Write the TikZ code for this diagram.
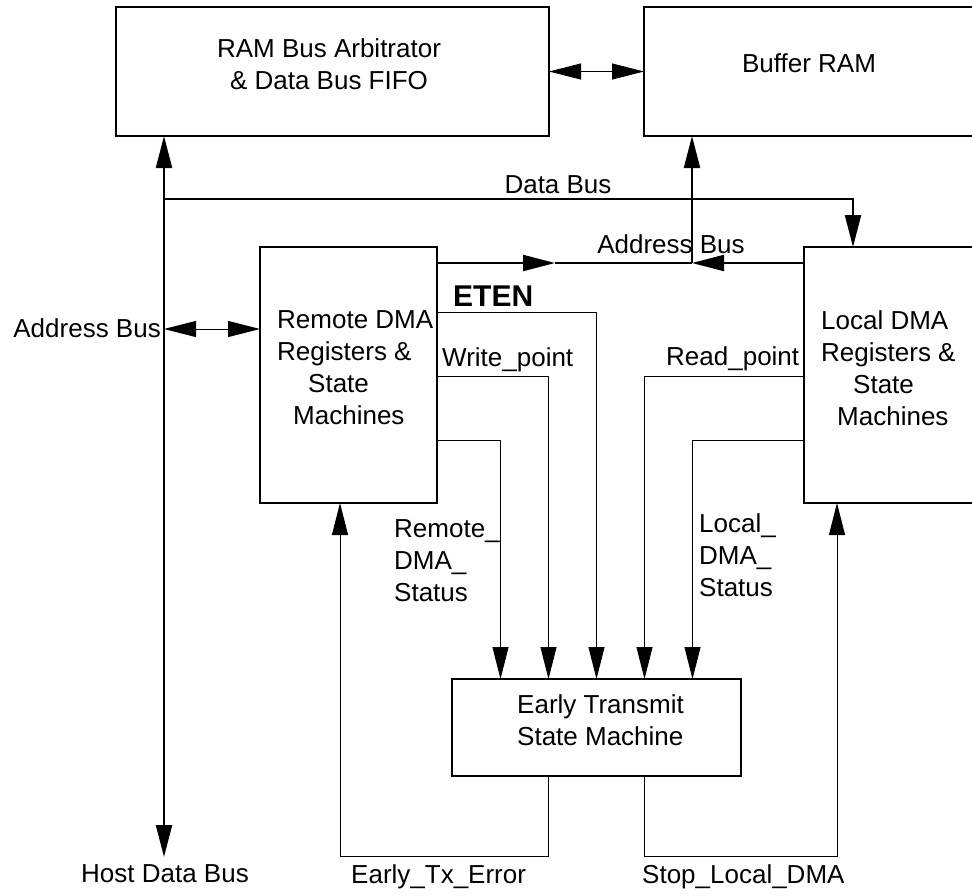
\documentclass[tikz,border=0pt]{standalone}
\usepackage{fontspec}
\setmainfont{Liberation Sans}
\usetikzlibrary{arrows.meta,calc}
\begin{document}
\begin{tikzpicture}[x=1pt,y=-1pt,
  box/.style={draw,line width=2pt,inner sep=0pt,outer sep=0pt},
  bus/.style={line width=2pt},
  sig/.style={line width=1pt},
  endtip/.style={-{Triangle[length=32pt,width=16pt]}},
  bothtips/.style={{Triangle[length=32pt,width=16pt]}-{Triangle[length=32pt,width=16pt]}},
  txt/.style={font=\fontsize{26}{32}\selectfont, inner sep=0pt},
  ]
\useasboundingbox (0,0) rectangle (972,895);
\clip (0,0) rectangle (972,895);

% boxes
\node[box,minimum width=433pt,minimum height=129pt] (ram) at (332.5,71.5) {};
\node[box,minimum width=346pt,minimum height=129pt] (buf) at (817,71.5) {};
\node[box,minimum width=177pt,minimum height=256pt] (rdma) at (348.5,375) {};
\node[box,minimum width=186pt,minimum height=256pt] (ldma) at (897,375) {};
\node[box,minimum width=289pt,minimum height=97pt] (etsm) at (596.5,727.5) {};

% box texts
\node[txt,anchor=north,align=center] (ramtxt) at (329,38) {RAM Bus Arbitrator\\\& Data Bus FIFO};
\node[txt,anchor=base] (buftxt) at (809,72) {Buffer RAM};
\node[txt,anchor=north west,align=left] (rdmatxt) at (277,310) {Remote DMA\\Registers \&\\\hspace*{31pt}State\\\hspace*{16pt}Machines};
\node[txt,anchor=north west,align=left] (ldmatxt) at (821,310) {Local DMA\\Registers \&\\\hspace*{32pt}State\\\hspace*{16pt}Machines};
\node[txt,anchor=north west,align=left] (etsmtxt) at (517,694) {Early Transmit\\State Machine};

% host bus
\coordinate (hostend) at (164,857);
\draw[bus,bothtips] (hostend |- ram.south) -- (hostend);
\coordinate (dbj) at (164,199);
\draw[bus,endtip] (dbj) -| ([xshift=-44pt]ldma.north);

% address bus
\coordinate (abm) at (555,263);
\coordinate (abj) at (692,263);
\draw[bus,endtip] (rdma.east |- abm) -- (abm);
\draw[bus] (abm) -- (abj);
\draw[bus,endtip] (ldma.west |- abj) -- (abj);
\draw[bus,endtip] (abj) -- (abj |- buf.south);

\coordinate (abl) at (164,329);
\draw[sig,bothtips] (abl) -- (abl -| rdma.west);

\draw[sig,bothtips] (ram.east) -- (buf.west);

% signals to early transmit
\draw[sig,endtip] ($(rdma.north east)+(0,65)$) -| (etsm.north);
\draw[sig,endtip] ($(rdma.north east)+(0,129)$) -| ($(etsm.north)+(-48,0)$);
\draw[sig,endtip] ($(rdma.north east)+(0,193)$) -| ($(etsm.north)+(-96,0)$);
\draw[sig,endtip] ($(ldma.north west)+(0,129)$) -| ($(etsm.north)+(48,0)$);
\draw[sig,endtip] ($(ldma.north west)+(0,193)$) -| ($(etsm.north)+(96,0)$);

% feedback
\coordinate (etxc) at (340,856);
\draw[sig,endtip] ($(etsm.south)+(-48,0)$) |- (etxc) -- (etxc |- rdma.south);
\coordinate (sldc) at (837,856);
\draw[sig,endtip] ($(etsm.south)+(48,0)$) |- (sldc) -- (sldc |- ldma.south);

% labels
\node[txt,anchor=base] (dbl) at (558,193) {Data Bus};
\node[txt,anchor=base] (abt) at (671,253) {Address Bus};
\node[txt,anchor=base east] (abll) at (161,337) {Address Bus};
\node[font=\fontsize{30}{36}\selectfont\bfseries,inner sep=0pt,anchor=base west] (eten) at (453,306) {ETEN};
\node[txt,anchor=base west] (wp) at (442,366) {Write\_point};
\node[txt,anchor=base west] (rp) at (666,365) {Read\_point};
\node[txt,anchor=north west,align=left] (rds) at (394,519) {Remote\_\\DMA\_\\Status};
\node[txt,anchor=north west,align=left] (lds) at (699,513) {Local\_\\DMA\_\\Status};
\node[txt,anchor=base] (hdb) at (165,882) {Host Data Bus};
\node[txt,anchor=base west] (ete) at (351,883) {Early\_Tx\_Error};
\node[txt,anchor=base west] (sld) at (642,883) {Stop\_Local\_DMA};
\end{tikzpicture}
\end{document}
